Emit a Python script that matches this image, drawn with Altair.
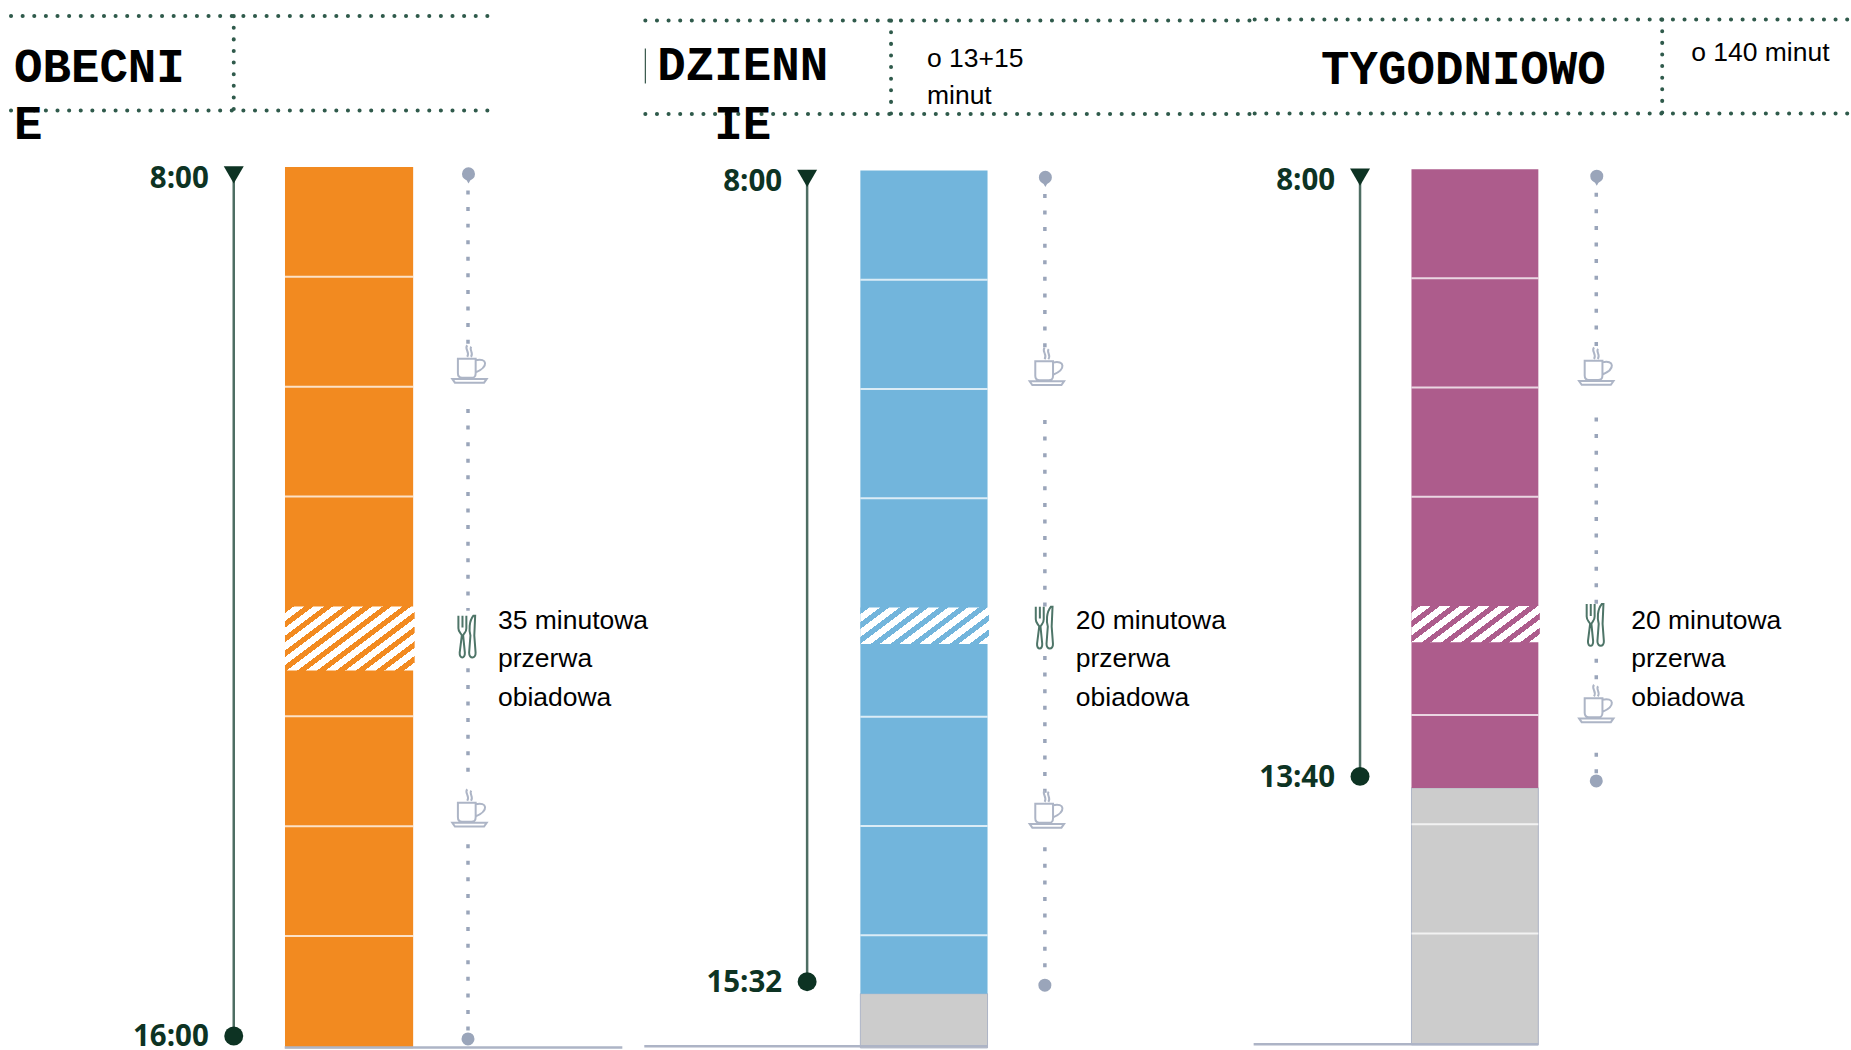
import altair as alt
import pandas as pd

# Working-time plans: one column per scenario
PANEL_LEFT = [0, 640, 1255]
PANEL_WIDTH = [640, 615, 596]
TITLES = [["OBECNI", "E"], ["DZIENN", "IE"], ["TYGODNIOWO"]]
NOTES = [[], ["o 13+15", "minut"], ["o 140 minut"]]
COLORS = ["#F28A20", "#72B5DC", "#AD5C8C"]

START_LABEL = ["8:00", "8:00", "8:00"]
END_LABEL = ["16:00", "15:32", "13:40"]
END_HOUR = [16.0, 15 + 32 / 60, 13 + 40 / 60]
BAR_BOTTOM = [16.02, 16.03, 16.02]
HOUR_LINES = [
    [9, 10, 11, 13, 14, 15],
    [9, 10, 11, 13, 14, 15],
    [9, 10, 11, 13, 14, 15],
]
LUNCH_START = [12.0, 12.0, 12.0]
LUNCH_MINUTES = [35, 20, 20]
LUNCH_TEXT = [
    ["35 minutowa", "przerwa", "obiadowa"],
    ["20 minutowa", "przerwa", "obiadowa"],
    ["20 minutowa", "przerwa", "obiadowa"],
]
COFFEE_HOURS = [[9.83, 13.87], [9.83, 13.88], [9.84, 12.93]]
FORK_HOUR = [12.28, 12.19, 12.18]
# Stretches of the dotted break line between the icons
DOTTED = [
    [(8.0, 9.65), (10.14, 12.04), (12.5, 13.62), (14.1, 15.94)],
    [(8.0, 9.63), (10.22, 12.0), (12.38, 13.7), (14.13, 15.45)],
    [(8.0, 9.64), (10.21, 11.98), (12.42, 12.74), (13.28, 13.6)],
]

# Layout of each column, in page pixels
TOP_PX = [166.5, 170.0, 168.8]
PX_PER_HOUR = [110.0, 109.4, 109.3]
CHART_H = 1050
BAR_X = [(285.3, 413.6), (861.3, 988.6), (1413, 1540)]
TIME_X = [234, 808, 1361.5]
DOT_X = [468.5, 1046, 1598]
CUP_X = [470, 1048, 1598]
FORK_X = [467.5, 1045.5, 1597]
TEXT_X = [498.5, 1077, 1633]
BASE_X = [(285, 623), (645, 988.6), (1255, 1540)]
HEAD_LINES = [(10, 489, 15.5, 110), (645, 1255, 20, 113.5), (1255, 1851, 19, 113)]
HEAD_DIV_X = [234, 892, 1664]
END_OFFSET = [-10, -12, -11.5]
END_LABEL_OFFSET = [-1, -1, 0]
DOT_OFFSET = [-7, -8.5, -7]

INK = "#0D3323"
STEM = "#4E6E63"
DOT = "#9AA5BA"
GRAY = "#CCCCCC"
EDGE = "#ADB4C6"
BODY = "Liberation Sans"
MONO = "Liberation Mono"

CUP_PATH = (
    "M-0.62,-0.28 L0.33,-0.28 L0.33,0.5 C0.33,0.74 0.2,0.74 0.1,0.74 L-0.4,0.74 "
    "C-0.55,0.74 -0.62,0.65 -0.62,0.5 Z "
    "M0.33,-0.2 C0.95,-0.35 1.05,0.15 0.33,0.45 "
    "M-0.92,0.8 L0.92,0.8 L0.78,1 L-0.78,1 Z "
    "M-0.12,-1 C-0.3,-0.8 0.05,-0.65 -0.12,-0.38 "
    "M0.1,-0.92 C-0.05,-0.75 0.25,-0.62 0.08,-0.38"
)
FORK_PATH = (
    "M-0.4,-1 L-0.4,-0.42 C-0.4,-0.22 -0.28,-0.2 -0.24,-0.08 L-0.34,0.72 "
    "C-0.36,1.02 -0.08,1.02 -0.1,0.72 L-0.18,-0.08 C-0.14,-0.2 -0.03,-0.22 -0.03,-0.42 L-0.03,-1 "
    "M-0.21,-1 L-0.21,-0.45 "
    "M0.3,-1 C0.09,-0.75 0.09,-0.3 0.16,-0.08 L0.1,0.72 C0.09,1.02 0.42,1.02 0.4,0.72 "
    "L0.34,-0.08 L0.38,-1 Z"
)


def hatch_fill(color, width, height):
    """Hard-stopped diagonal gradient that reads as hatching on a rectangle."""
    slope = 0.75
    period_px = 19.0
    a = slope * width / height
    b = 1.0
    k = (a + b) / (a * a + b * b)
    ax, ay = a * k, b * k
    periods = int(round((width + height / slope) / period_px))
    stops = []
    for i in range(periods):
        p0, p1, p2 = i / periods, (i + 0.45) / periods, (i + 1) / periods
        stops += [
            {"offset": p0, "color": color},
            {"offset": p1, "color": color},
            {"offset": p1, "color": "white"},
            {"offset": p2, "color": "white"},
        ]
    return {"gradient": "linear", "x1": 0, "y1": 0, "x2": ax, "y2": ay, "stops": stops}


def text_layer(label, x, y, font, size, weight="normal", color="black", align="left"):
    return alt.Chart(pd.DataFrame({"label": [label]})).mark_text(
        font=font, fontSize=size, fontWeight=weight, color=color, align=align, baseline="alphabetic"
    ).encode(x=alt.value(x), y=alt.value(y), text="label:N")


def dotted_head():
    return alt.Chart(pd.DataFrame({"k": [0]})).mark_rule(
        color="#2F5A4B", strokeWidth=4, strokeDash=[0.1, 11.53], strokeCap="round"
    )


def panel(i):
    left = PANEL_LEFT[i]
    px = lambda v: v - left
    y_top = 8 - TOP_PX[i] / PX_PER_HOUR[i]
    y_bottom = 8 + (CHART_H - TOP_PX[i]) / PX_PER_HOUR[i]
    y_scale = alt.Scale(domain=[y_bottom, y_top], nice=False, zero=False)
    Y = alt.Y("t:Q", scale=y_scale, axis=None)
    Y2 = alt.Y2("t2:Q")
    bx0, bx1 = px(BAR_X[i][0]), px(BAR_X[i][1])
    layers = []

    # Header band
    hx0, hx1, hy0, hy1 = HEAD_LINES[i]
    for hy in (hy0, hy1):
        layers.append(dotted_head().encode(
            x=alt.value(px(hx0) + 1), x2=alt.value(px(hx1)), y=alt.value(hy)))
    layers.append(dotted_head().encode(
        x=alt.value(px(HEAD_DIV_X[i])), y=alt.value(hy0), y2=alt.value(hy1)))

    if i == 0:
        layers.append(text_layer(TITLES[0][0], px(14), 81.5, MONO, 47.5, "bold"))
        layers.append(text_layer(TITLES[0][1], px(14), 138.5, MONO, 47.5, "bold"))
    elif i == 1:
        layers.append(alt.Chart(pd.DataFrame({"k": [0]})).mark_rule(color=INK, strokeWidth=1).encode(
            x=alt.value(px(646)), y=alt.value(48), y2=alt.value(83)))
        layers.append(text_layer(TITLES[1][0], px(743.5), 80, MONO, 47.5, "bold", align="center"))
        layers.append(text_layer(TITLES[1][1], px(743.5), 138.5, MONO, 47.5, "bold", align="center"))
        layers.append(text_layer(NOTES[1][0], px(928), 67, BODY, 26.5))
        layers.append(text_layer(NOTES[1][1], px(928), 104, BODY, 26.5))
    else:
        layers.append(text_layer(TITLES[2][0], px(1465), 84, MONO, 47.5, "bold", align="center"))
        layers.append(text_layer(NOTES[2][0], px(1693), 60, BODY, 26.5))

    # Bars: worked time, then any time freed at the end of the day
    end = END_HOUR[i]
    if end < 16:
        layers.append(alt.Chart(pd.DataFrame({"t": [end], "t2": [BAR_BOTTOM[i]]})).mark_rect(
            color=GRAY, stroke=EDGE, strokeWidth=1
        ).encode(x=alt.value(bx0), x2=alt.value(bx1), y=Y, y2=Y2))
    bar_end = end if end < 16 else BAR_BOTTOM[i]
    layers.append(alt.Chart(pd.DataFrame({"t": [8.0], "t2": [bar_end]})).mark_rect(
        color=COLORS[i]
    ).encode(x=alt.value(bx0), x2=alt.value(bx1), y=Y, y2=Y2))

    # Hour lines
    layers.append(alt.Chart(pd.DataFrame({"t": HOUR_LINES[i]})).mark_rule(
        color="white", strokeWidth=2, opacity=0.75
    ).encode(x=alt.value(bx0), x2=alt.value(bx1), y=Y))

    # Lunch break
    lunch = LUNCH_START[i]
    lunch_end = lunch + LUNCH_MINUTES[i] / 60
    h_px = (lunch_end - lunch) * PX_PER_HOUR[i]
    layers.append(alt.Chart(pd.DataFrame({"t": [lunch], "t2": [lunch_end]})).mark_rect(
        fill=hatch_fill(COLORS[i], bx1 - bx0 + 1.5, h_px)
    ).encode(x=alt.value(bx0), x2=alt.value(bx1 + 1.5), y=Y, y2=Y2))

    # Baseline
    layers.append(alt.Chart(pd.DataFrame({"t": [16.0]})).mark_rule(
        color=EDGE, strokeWidth=2.5, yOffset=1.5
    ).encode(x=alt.value(px(BASE_X[i][0])), x2=alt.value(px(BASE_X[i][1])), y=Y))

    # Start/end marker line
    tx = px(TIME_X[i])
    layers.append(alt.Chart(pd.DataFrame({"t": [8.0], "t2": [end]})).mark_rule(
        color=STEM, strokeWidth=2.5, y2Offset=END_OFFSET[i]
    ).encode(x=alt.value(tx), y=Y, y2=Y2))
    layers.append(alt.Chart(pd.DataFrame({"t": [8.0]})).mark_point(
        shape="triangle-down", filled=True, color=INK, size=400, opacity=1, yOffset=8
    ).encode(x=alt.value(tx), y=Y))
    layers.append(alt.Chart(pd.DataFrame({"t": [end]})).mark_point(
        shape="circle", filled=True, color=INK, size=360, opacity=1, yOffset=END_OFFSET[i]
    ).encode(x=alt.value(tx), y=Y))
    labels = (
        (8.0, START_LABEL[i], 21),
        (end, END_LABEL[i], END_OFFSET[i] + 11 + END_LABEL_OFFSET[i]),
    )
    for hour, label, off in labels:
        layers.append(alt.Chart(pd.DataFrame({"t": [hour], "label": [label]})).mark_text(
            font="Open Sans", fontSize=29.5, fontWeight="bold", color=INK, align="right",
            baseline="alphabetic", yOffset=off
        ).encode(x=alt.value(tx - 25), y=Y, text="label:N"))

    # Dotted break line with its end points
    dx = px(DOT_X[i])
    dots = pd.DataFrame(DOTTED[i], columns=["t", "t2"])
    layers.append(alt.Chart(dots).mark_rule(
        color=DOT, strokeWidth=3.5, strokeDash=[4, 12.6], yOffset=7
    ).encode(x=alt.value(dx), y=Y, y2=Y2))
    layers.append(alt.Chart(pd.DataFrame({"t": [8.0]})).mark_point(
        shape="circle", filled=True, color=DOT, size=170, opacity=1, yOffset=7
    ).encode(x=alt.value(dx + 0.5), y=Y))
    layers.append(alt.Chart(pd.DataFrame({"t": [8.0]})).mark_point(
        shape="triangle-down", filled=True, color=DOT, size=36, opacity=1, yOffset=14
    ).encode(x=alt.value(dx + 0.5), y=Y))
    layers.append(alt.Chart(pd.DataFrame({"t": [end]})).mark_point(
        shape="circle", filled=True, color=DOT, size=170, opacity=1, yOffset=DOT_OFFSET[i]
    ).encode(x=alt.value(dx), y=Y))

    # Break icons
    layers.append(alt.Chart(pd.DataFrame({"t": COFFEE_HOURS[i]})).mark_point(
        shape=CUP_PATH, filled=False, color="#ADB5C6", size=1400, strokeWidth=2, opacity=1, yOffset=-4
    ).encode(x=alt.value(px(CUP_X[i])), y=Y))
    layers.append(alt.Chart(pd.DataFrame({"t": [FORK_HOUR[i]]})).mark_point(
        shape=FORK_PATH, filled=False, color="#4E7568", size=1849, strokeWidth=2, opacity=1
    ).encode(x=alt.value(px(FORK_X[i])), y=Y))

    # Lunch break note
    for line, base in zip(LUNCH_TEXT[i], (629, 667, 706)):
        layers.append(text_layer(line, px(TEXT_X[i]), base, BODY, 26.5))

    return alt.layer(*layers).properties(width=PANEL_WIDTH[i], height=CHART_H)


chart = alt.hconcat(*[panel(i) for i in range(3)], spacing=0, bounds="flush").properties(
    padding=0, background="white"
).configure_view(stroke=None)

chart.save("out.html", embed_options={"renderer": "svg", "actions": False})
